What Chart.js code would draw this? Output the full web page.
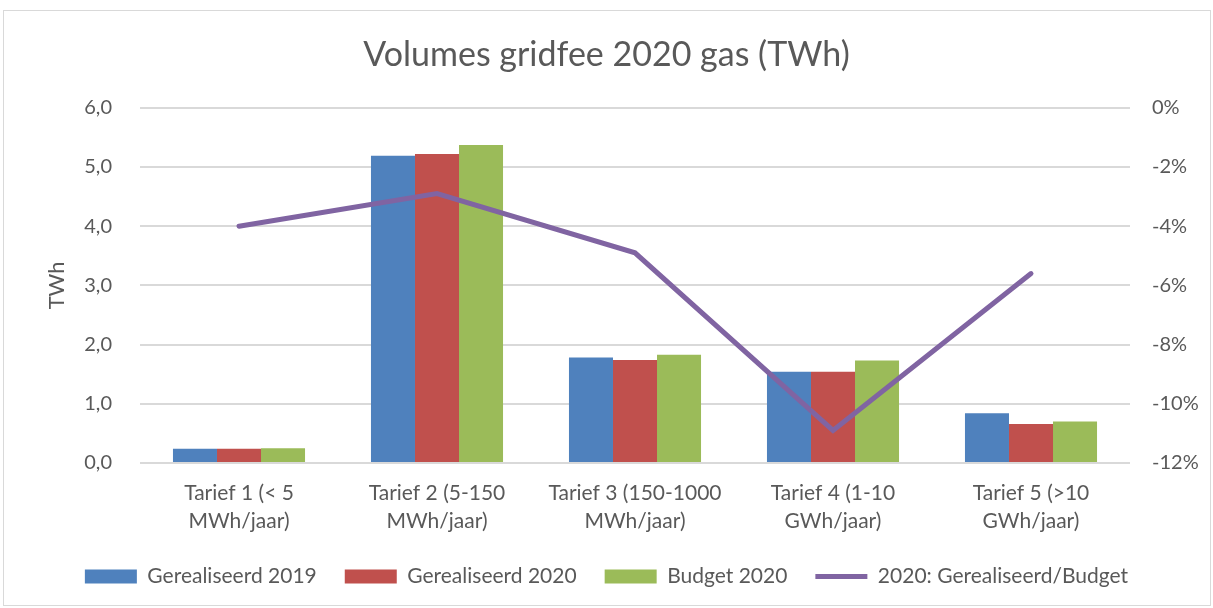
<!DOCTYPE html>
<html>
<head>
<meta charset="utf-8">
<script src="https://cdn.jsdelivr.net/npm/chart.js@4/dist/chart.umd.min.js"></script>
<style>
  html, body { margin: 0; padding: 0; background: #fff; }
  #wrap { position: relative; width: 1213px; height: 608px; }
  #frame { position: absolute; left: 3px; top: 10px; width: 1206px; height: 594px; border: 1px solid #d9d9d9; pointer-events: none; }
</style>
</head>
<body>
<div id="wrap">
  <canvas id="chart" width="1213" height="608"></canvas>
  <div id="frame"></div>
</div>
<script>
const categories = [
  ['Tarief 1 (< 5', 'MWh/jaar)'],
  ['Tarief 2 (5-150', 'MWh/jaar)'],
  ['Tarief 3 (150-1000', 'MWh/jaar)'],
  ['Tarief 4 (1-10', 'GWh/jaar)'],
  ['Tarief 5 (>10', 'GWh/jaar)']
];
const realised2019 = [0.24, 5.19, 1.78, 1.54, 0.84];
const realised2020 = [0.24, 5.22, 1.74, 1.54, 0.66];
const budget2020 = [0.25, 5.37, 1.83, 1.73, 0.70];
const ratio2020 = [-4.0, -2.9, -4.9, -10.9, -5.6]; // % vs budget

const textColor = '#595959';
const fontFamily = 'Lato, "Open Sans", sans-serif';

const chart = new Chart(document.getElementById('chart'), {
  type: 'bar',
  data: {
    labels: categories,
    datasets: [
      { label: 'Gerealiseerd 2019', data: realised2019, backgroundColor: '#4F81BD', yAxisID: 'y', order: 1, pointStyle: 'rect' },
      { label: 'Gerealiseerd 2020', data: realised2020, backgroundColor: '#C0504D', yAxisID: 'y', order: 1, pointStyle: 'rect' },
      { label: 'Budget 2020', data: budget2020, backgroundColor: '#9BBB59', yAxisID: 'y', order: 1, pointStyle: 'rect' },
      {
        type: 'line',
        label: '2020: Gerealiseerd/Budget',
        data: ratio2020,
        yAxisID: 'y2',
        borderColor: '#8064A2',
        backgroundColor: '#8064A2',
        borderWidth: 5,
        borderCapStyle: 'round',
        pointRadius: 0,
        tension: 0,
        order: 0,
        pointStyle: 'line'
      }
    ]
  },
  options: {
    responsive: false,
    animation: false,
    categoryPercentage: 0.667,
    barPercentage: 1.0,
    layout: { padding: { left: 0, right: 0, top: 10, bottom: 11 } },
    plugins: {
      title: {
        display: true,
        text: 'Volumes gridfee 2020 gas (TWh)',
        color: textColor,
        font: { family: fontFamily, size: 34, weight: 'normal' },
        padding: { top: 25, bottom: 32 }
      },
      legend: {
        position: 'bottom',
        labels: {
          color: textColor,
          font: { family: fontFamily, size: 21 },
          usePointStyle: true,
          pointStyleWidth: 52,
          boxHeight: 14,
          padding: 28,
          sort: (a, b) => a.datasetIndex - b.datasetIndex
        }
      },
      tooltip: { enabled: false }
    },
    scales: {
      x: {
        grid: { display: false, drawTicks: false },
        border: { display: false },
        ticks: { color: textColor, font: { family: fontFamily, size: 21, lineHeight: 1.33 }, padding: 16, maxRotation: 0 },
        afterFit: (scale) => { scale.height = 75; }
      },
      y: {
        position: 'left',
        min: 0, max: 6,
        ticks: {
          stepSize: 1,
          color: textColor,
          font: { family: fontFamily, size: 20 },
          padding: 28,
          callback: (v) => v.toFixed(1).replace('.', ',')
        },
        grid: { color: '#d9d9d9', lineWidth: 2, drawTicks: false },
        border: { display: false },
        title: { display: true, text: 'TWh', color: textColor, font: { family: fontFamily, size: 22 }, padding: { top: 44, bottom: 0 } },
        afterFit: (scale) => { scale.width = 140; }
      },
      y2: {
        position: 'right',
        min: -12, max: 0,
        ticks: {
          stepSize: 2,
          color: textColor,
          font: { family: fontFamily, size: 20 },
          padding: 22,
          callback: (v) => v + '%'
        },
        grid: { display: false, drawTicks: false },
        border: { display: false },
        afterFit: (scale) => { scale.width = 83; }
      }
    }
  }
});
</script>
</body>
</html>
